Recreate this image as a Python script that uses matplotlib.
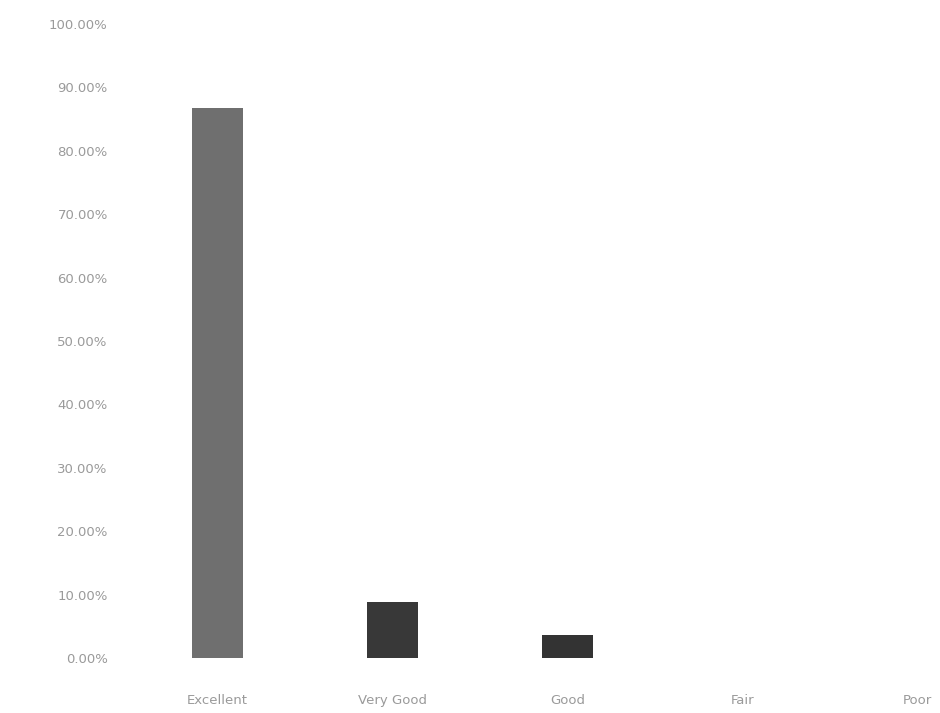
import matplotlib.pyplot as plt
from matplotlib.ticker import FuncFormatter

# Dados
categorias = ["Excellent", "Very Good", "Good", "Fair", "Poor"]
percentuais = [86.7, 8.8, 3.6, 0.0, 0.0]
cores = ["#6f6f6f", "#383838", "#333333", "#333333", "#333333"]

fig = plt.figure(figsize=(9.4, 7.13), dpi=100)
ax = fig.add_axes([130 / 940, 55 / 713, 810 / 940, 634 / 713])

x = range(len(categorias))
ax.bar(x, percentuais, width=0.29, color=cores)

ax.set_ylim(0, 100)
ax.set_xlim(-0.5, 4.13)
ax.set_yticks(range(0, 101, 10))
ax.yaxis.set_major_formatter(FuncFormatter(lambda v, p: f"{v:.2f}%"))
ax.set_xticks(list(x))
ax.set_xticklabels(categorias)

for lado in ["top", "right", "left", "bottom"]:
    ax.spines[lado].set_visible(False)
ax.tick_params(axis="both", length=0, colors="#9a9a9a", labelsize=9.5)
ax.tick_params(axis="y", pad=16)
ax.tick_params(axis="x", pad=26)

fig.savefig("out.png", dpi=100, facecolor="white")
